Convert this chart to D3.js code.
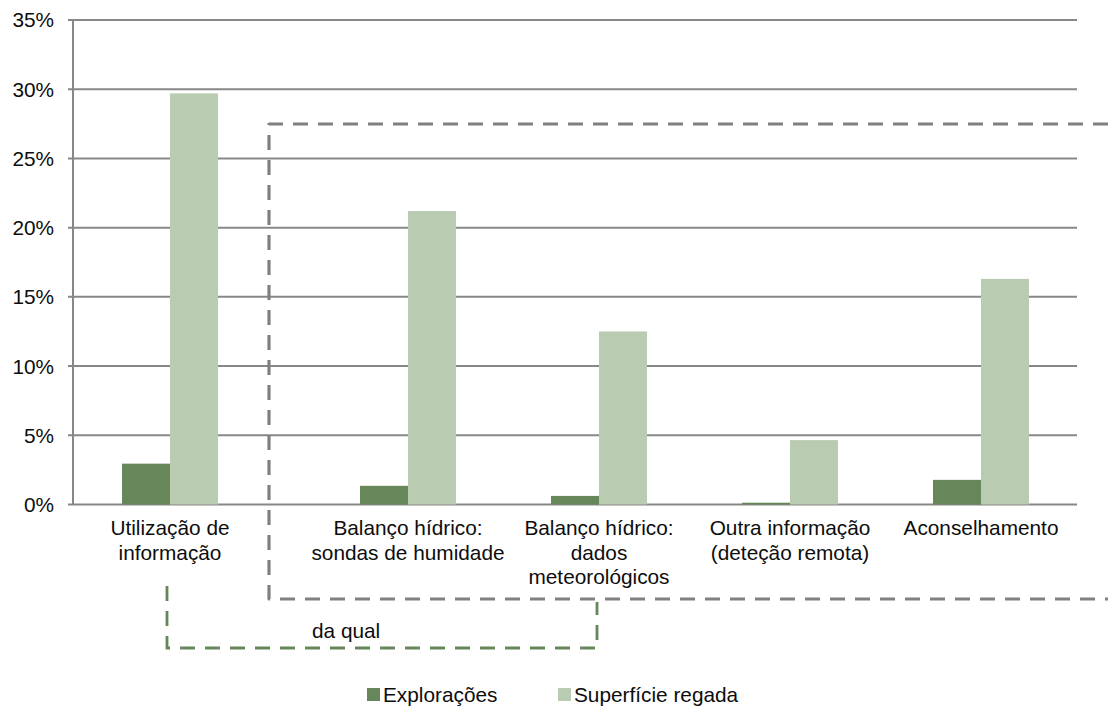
<!DOCTYPE html>
<html>
<head>
<meta charset="utf-8">
<script src="https://cdn.jsdelivr.net/npm/d3@7"></script>
<style>
  html, body { margin: 0; padding: 0; background: #ffffff; }
  svg { display: block; font-family: "Liberation Sans", Arial, sans-serif; }
</style>
</head>
<body>
<svg id="chart" width="1108" height="710"></svg>
<script>
// ---- data ----
const categories = [
  ["Utilização de", "informação"],
  ["Balanço hídrico:", "sondas de humidade"],
  ["Balanço hídrico:", "dados", "meteorológicos"],
  ["Outra informação", "(deteção remota)"],
  ["Aconselhamento"]
];
const seriesNames = ["Explorações", "Superfície regada"];
const exploracoes = [2.95, 1.35, 0.62, 0.13, 1.78];
const superficie = [29.7, 21.2, 12.5, 4.65, 16.3];
const yTicks = [0, 5, 10, 15, 20, 25, 30, 35];
const annotationText = "da qual";

// ---- layout ----
const colors = ["#67865a", "#b9cbb1"];
const gridColor = "#878787";
const fontSize = 20.8;
const svg = d3.select("#chart");
const plotLeft = 73, plotRight = 1077;
const y = d3.scaleLinear().domain([0, 35]).range([504.5, 20]);
const extraGap = 0.246; // extra spacing after the first category (block "da qual")
const slot = i => i + (i > 0 ? extraGap : 0);
const x = d3.scaleLinear().domain([0, 4 + extraGap]).range([170, 981]);
const barW = 48;

// gridlines
svg.append("g").selectAll("line").data(yTicks).join("line")
  .attr("x1", plotLeft - 5).attr("x2", plotRight)
  .attr("y1", d => y(d)).attr("y2", d => y(d))
  .attr("stroke", gridColor).attr("stroke-width", 2);

// y axis line
svg.append("line")
  .attr("x1", plotLeft).attr("x2", plotLeft)
  .attr("y1", y(35)).attr("y2", y(0))
  .attr("stroke", gridColor).attr("stroke-width", 2);

// y tick labels
svg.append("g").selectAll("text").data(yTicks).join("text")
  .attr("x", 54).attr("y", d => y(d)).attr("dy", "0.36em")
  .attr("text-anchor", "end").attr("font-size", fontSize).attr("fill", "#0d0d0d")
  .text(d => d + "%");

// bars
const series = [exploracoes, superficie];
series.forEach((vals, s) => {
  svg.append("g").selectAll("rect").data(vals).join("rect")
    .attr("x", (d, i) => x(slot(i)) - barW + s * barW)
    .attr("width", barW)
    .attr("y", d => y(d))
    .attr("height", d => y(0) - y(d))
    .attr("fill", colors[s]);
});

// x labels
const xl = svg.append("g");
categories.forEach((lines, i) => {
  lines.forEach((ln, j) => {
    xl.append("text")
      .attr("x", x(slot(i))).attr("y", 535 + j * 24.5)
      .attr("text-anchor", "middle").attr("font-size", fontSize).attr("fill", "#0d0d0d")
      .text(ln);
  });
});

// dashed annotation boxes
svg.append("path")
  .attr("d", "M1108,124 H269 V599 H1108")
  .attr("fill", "none").attr("stroke", "#808080").attr("stroke-width", 3.2)
  .attr("stroke-dasharray", "15,10").attr("stroke-linejoin", "round");

svg.append("path")
  .attr("d", "M167,586 V648 H597 V602")
  .attr("fill", "none").attr("stroke", "#67865a").attr("stroke-width", 2.8)
  .attr("stroke-dasharray", "15,10");

svg.append("text")
  .attr("x", 312).attr("y", 638).attr("font-size", fontSize).attr("fill", "#0d0d0d")
  .text(annotationText);

// legend
const legX = [367, 558];
seriesNames.forEach((name, s) => {
  svg.append("rect").attr("x", legX[s]).attr("y", 688).attr("width", 13).attr("height", 13)
    .attr("fill", colors[s]);
  svg.append("text").attr("x", legX[s] + 16).attr("y", 702)
    .attr("font-size", fontSize).attr("fill", "#0d0d0d").text(name);
});
</script>
</body>
</html>
